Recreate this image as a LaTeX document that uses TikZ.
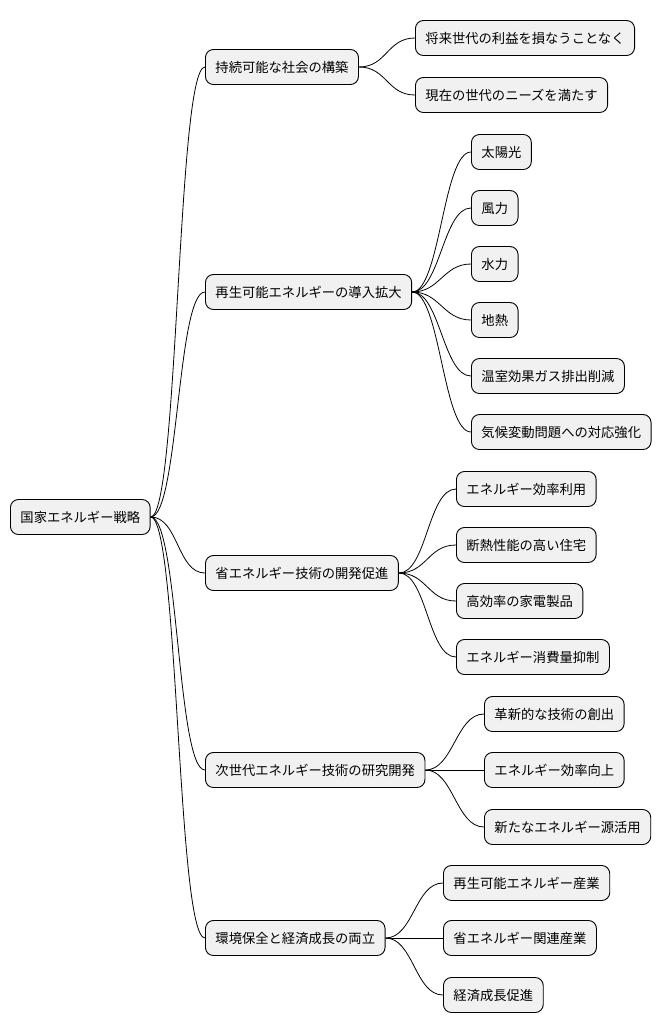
\documentclass[tikz,border=0pt]{standalone}
\usepackage{fontspec}
\setmainfont{Noto Sans CJK JP}
\usetikzlibrary{calc}
\begin{document}
\begin{tikzpicture}[x=1pt,y=-1pt,
  box/.style={draw=black,line width=0.9pt,rounded corners=8pt,fill={rgb,255:red,241;green,241;blue,241},
    minimum height=35pt,inner xsep=10pt,anchor=west,font=\fontsize{13.3}{15}\selectfont},
  link/.style={draw=black,line width=0.8pt}]
\useasboundingbox (0,0) rectangle (670,1034);
\node[box] (r) at (10,517) {国家エネルギー戦略};
\node[box] (a) at (205,67) {持続可能な社会の構築};
\node[box] (b) at (205,292) {再生可能エネルギーの導入拡大};
\node[box] (c) at (205,573) {省エネルギー技術の開発促進};
\node[box] (d) at (205,770) {次世代エネルギー技術の研究開発};
\node[box] (e) at (205,938) {環境保全と経済成長の両立};
\node[box] (a1) at (415,38) {将来世代の利益を損なうことなく};
\node[box] (a2) at (415,95) {現在の世代のニーズを満たす};
\node[box] (b1) at (471,152) {太陽光};
\node[box] (b2) at (471,208) {風力};
\node[box] (b3) at (471,264) {水力};
\node[box] (b4) at (471,320) {地熱};
\node[box] (b5) at (471,376) {温室効果ガス排出削減};
\node[box] (b6) at (471,432) {気候変動問題への対応強化};
\node[box] (c1) at (456,489) {エネルギー効率利用};
\node[box] (c2) at (456,545) {断熱性能の高い住宅};
\node[box] (c3) at (456,601) {高効率の家電製品};
\node[box] (c4) at (456,657) {エネルギー消費量抑制};
\node[box] (d1) at (484,714) {革新的な技術の創出};
\node[box] (d2) at (484,770) {エネルギー効率向上};
\node[box] (d3) at (484,827) {新たなエネルギー源活用};
\node[box] (e1) at (443,883) {再生可能エネルギー産業};
\node[box] (e2) at (443,938) {省エネルギー関連産業};
\node[box] (e3) at (443,995) {経済成長促進};
\foreach \p/\c in {r/a,r/b,r/c,r/d,r/e,a/a1,a/a2,b/b1,b/b2,b/b3,b/b4,b/b5,b/b6,c/c1,c/c2,c/c3,c/c4,d/d1,d/d2,d/d3,e/e1,e/e2,e/e3}
  \draw[link] (\p.east) .. controls ($(\p.east)+(28,0)$) and ($(\c.west)+(-28,0)$) .. (\c.west);
\end{tikzpicture}
\end{document}
